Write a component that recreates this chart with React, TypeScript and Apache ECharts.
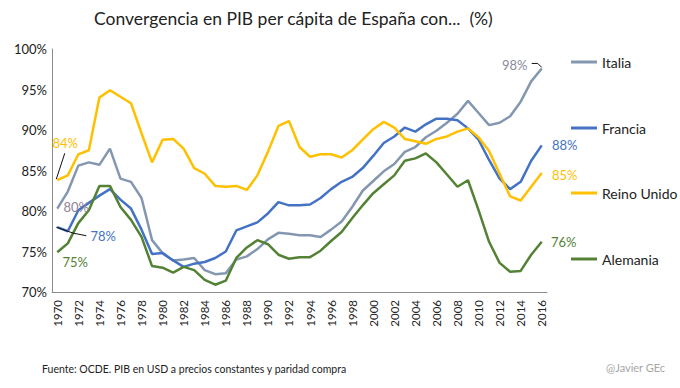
import React, { useEffect, useRef } from "react";
import * as echarts from "echarts";

const years: string[] = [];
for (let y = 1970; y <= 2016; y++) years.push(String(y));

const italia = [80.3, 82.4, 85.6, 86.0, 85.7, 87.7, 84.0, 83.6, 81.6, 76.4, 74.8, 73.9, 74.0, 74.2, 72.7, 72.2,
  72.3, 74.0, 74.4, 75.3, 76.5, 77.3, 77.2, 77.0, 77.0, 76.8, 77.7, 78.7, 80.5, 82.5, 83.7,
  84.9, 85.8, 87.3, 87.9, 89.1, 89.9, 90.9, 92.0, 93.6, 92.1, 90.6, 90.9, 91.7, 93.5, 96.0, 97.6];
const francia = [78.0, 77.5, 80.1, 81.0, 81.9, 82.7, 81.4, 80.3, 77.7, 74.7, 74.8, 73.9, 73.1, 73.5, 73.7, 74.2,
  75.0, 77.6, 78.1, 78.6, 79.7, 81.1, 80.7, 80.7, 80.8, 81.6, 82.7, 83.6, 84.2, 85.3, 86.8,
  88.4, 89.2, 90.3, 89.8, 90.7, 91.4, 91.4, 91.2, 90.2, 88.8, 86.3, 84.0, 82.7, 83.6, 86.2, 88.1];
const reinoUnido = [83.8, 84.4, 87.0, 87.5, 94.0, 94.9, 94.1, 93.3, 89.6, 86.0, 88.8, 88.9, 87.7, 85.3, 84.6, 83.1,
  83.0, 83.1, 82.6, 84.4, 87.3, 90.5, 91.1, 87.9, 86.7, 87.0, 87.0, 86.6, 87.5, 88.8, 90.1,
  91.0, 90.3, 88.9, 88.6, 88.3, 88.9, 89.2, 89.8, 90.2, 89.1, 87.4, 84.6, 81.8, 81.3, 83.0, 84.7];
const alemania = [74.9, 76.0, 78.5, 80.1, 83.1, 83.1, 80.5, 78.9, 76.8, 73.2, 73.0, 72.4, 73.1, 72.7, 71.5, 70.9,
  71.4, 74.2, 75.5, 76.4, 75.9, 74.6, 74.1, 74.3, 74.3, 75.1, 76.3, 77.4, 79.1, 80.7, 82.2,
  83.3, 84.4, 86.2, 86.5, 87.1, 86.0, 84.5, 83.0, 83.8, 80.1, 76.2, 73.6, 72.5, 72.6, 74.6, 76.2];

const seriesNames = ["Italia", "Francia", "Reino Unido", "Alemania"];
const yTicks = { min: 70, max: 100, interval: 5 };

const FONT = "Lato";
const C_ITA = "#8497B0";
const C_FRA = "#4472C4";
const C_UK = "#FFC000";
const C_GER = "#548235";

export default function App() {
  const ref = useRef<HTMLDivElement>(null);
  useEffect(() => {
    document.body.style.margin = "0";
    const chart = echarts.init(ref.current!, null, { renderer: "svg" });
    const last = years.length - 1;
    const mk = (name: string, data: number[], color: string) => ({
      name,
      type: "line",
      data,
      symbol: "none",
      lineStyle: { color, width: 2.5 },
      itemStyle: { color },
      z: 2,
    });
    const option: any = {
      animation: false,
      backgroundColor: "#ffffff",
      title: {
        text: "Convergencia en PIB per cápita de España con...  (%)",
        left: 89,
        top: 4,
        textStyle: { fontFamily: FONT, fontSize: 17.5, fontWeight: "normal", color: "#222" },
      },
      grid: { left: 52, right: 133, top: 49, bottom: 96 },
      xAxis: {
        type: "category",
        data: years,
        boundaryGap: true,
        axisLine: { show: true, lineStyle: { color: "#8c8c8c", width: 1 } },
        axisTick: { show: false },
        axisLabel: { rotate: 90, interval: 1, fontSize: 11.5, color: "#222", fontFamily: FONT, margin: 8 },
        splitLine: { show: false },
      },
      yAxis: {
        type: "value",
        min: yTicks.min,
        max: yTicks.max,
        interval: yTicks.interval,
        axisLine: { show: true, lineStyle: { color: "#8c8c8c", width: 1 } },
        axisTick: { show: false },
        axisLabel: { formatter: "{value}%", fontSize: 13, color: "#222", fontFamily: FONT, margin: 5 },
        splitLine: { show: false },
      },
      legend: seriesNames.map((n, i) => ({
        data: [n],
        left: 571,
        top: [55, 121, 186, 252][i],
        padding: 0,
        icon: "rect",
        itemWidth: 26,
        itemHeight: 3,
        textStyle: { fontFamily: FONT, fontSize: 14, color: "#222" },
      })),
      series: [
        mk(seriesNames[0], italia, C_ITA),
        mk(seriesNames[1], francia, C_FRA),
        mk(seriesNames[2], reinoUnido, C_UK),
        mk(seriesNames[3], alemania, C_GER),
      ],
    };
    chart.setOption(option);

    const px = (i: number, v: number) => chart.convertToPixel({ gridIndex: 0 }, [i, v]) as number[];
    const lab = (i: number, v: number, dx: number, dy: number, color: string) => {
      const p = px(i, v);
      return {
        type: "text",
        x: p[0] + dx,
        y: p[1] + dy,
        z: 10,
        style: {
          text: Math.round(v) + "%",
          fill: color,
          fontSize: 13,
          fontFamily: FONT,
          align: "center",
          verticalAlign: "middle",
        },
      };
    };
    const pUK = px(0, reinoUnido[0]);
    const pFR = px(0, francia[0]);
    const pIT = px(last, italia[last]);
    const lineStyle = { stroke: "#111", lineWidth: 1, fill: "none" };
    chart.setOption({
      graphic: [
        lab(0, italia[0], 19, -2, "#8e8496"),
        lab(last, italia[last], -27, -3, "#8a8a9a"),
        lab(0, francia[0], 46, 9, C_FRA),
        lab(last, francia[last], 23, 0, C_FRA),
        lab(0, reinoUnido[0], 8, -37, C_UK),
        lab(last, reinoUnido[last], 23, 2, C_UK),
        lab(0, alemania[0], 18, 10, C_GER),
        lab(last, alemania[last], 22, 0, C_GER),
        { type: "line", shape: { x1: pUK[0] - 1, y1: pUK[1] - 1, x2: pUK[0] + 7.5, y2: pUK[1] - 27 }, style: lineStyle, z: 10 },
        {
          type: "polyline",
          shape: { points: [[pFR[0] - 1, pFR[1]], [pFR[0] + 16, pFR[1] + 6], [pFR[0] + 29, pFR[1] + 8.5]] },
          style: lineStyle,
          z: 10,
        },
        {
          type: "polyline",
          shape: { points: [[pIT[0] - 10, pIT[1] - 5], [pIT[0] - 4, pIT[1] - 5], [pIT[0], pIT[1] - 1]] },
          style: lineStyle,
          z: 10,
        },
        {
          type: "text",
          left: 42,
          top: 363,
          style: { text: "Fuente: OCDE. PIB en USD a precios constantes y paridad compra", fontSize: 10.5, fontFamily: FONT, fill: "#222" },
        },
        {
          type: "text",
          left: 606,
          top: 362,
          style: { text: "@Javier GEc", fontSize: 11, fontFamily: FONT, fill: "#a6a6a6" },
        },
      ],
    });
    return () => chart.dispose();
  }, []);
  return <div ref={ref} style={{ position: "absolute", left: 0, top: 0, width: 680, height: 388 }} />;
}
